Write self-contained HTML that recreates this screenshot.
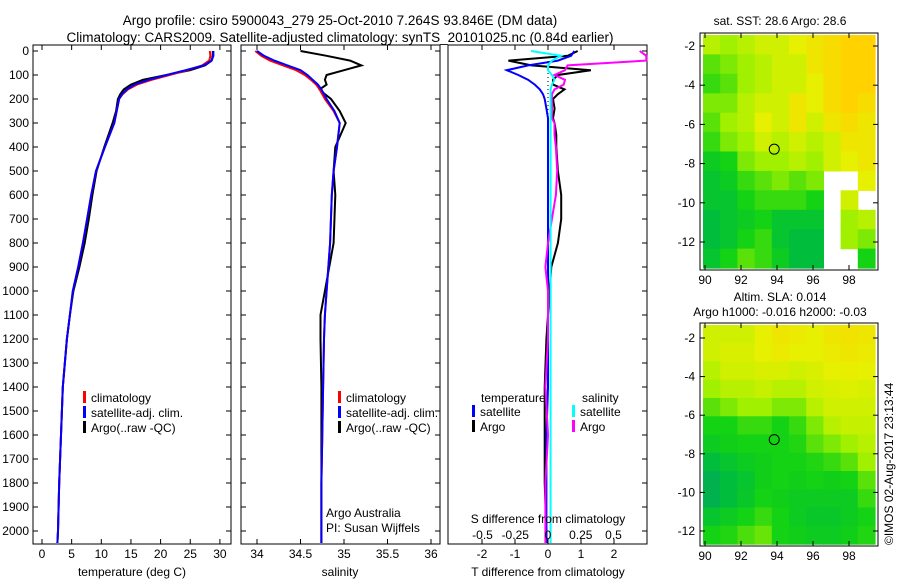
<!DOCTYPE html>
<html><head><meta charset="utf-8"><style>
body{margin:0;background:#fff;width:900px;height:580px;overflow:hidden}
svg{font-family:"Liberation Sans",sans-serif;font-size:12px}
</style></head><body>
<svg id="s" width="900" height="580">
<text x="340" y="25" text-anchor="middle" font-size="13.5">Argo profile: csiro 5900043_279 25-Oct-2010 7.264S 93.846E (DM data)</text>
<text x="340" y="42" text-anchor="middle" font-size="13.5">Climatology: CARS2009. Satellite-adjusted climatology: synTS_20101025.nc (0.84d earlier)</text>
<text x="780" y="25" text-anchor="middle">sat. SST: 28.6 Argo: 28.6</text>
<text x="780" y="301" text-anchor="middle">Altim. SLA: 0.014</text>
<text x="780" y="316" text-anchor="middle">Argo h1000: -0.016 h2000: -0.03</text>
<text transform="translate(893,545) rotate(-90)">©IMOS 02-Aug-2017 23:13:44</text>
</svg>
<script>
// ---- data ----
const depthT=[0,20,40,60,80,100,120,140,160,180,200,250,300,400,500,600,700,800,900,1000,1100,1200,1400,1600,1800,2000,2050];
const tempClim=[28.3,28.4,28.2,27.0,24.5,21.5,18.5,16.0,14.5,13.6,13.0,12.6,12.2,10.6,9.1,8.3,7.6,6.9,6.1,5.2,4.7,4.2,3.5,3.2,2.9,2.7,2.6];
const tempSat=[28.9,28.9,28.6,27.3,24.2,21.0,18.0,15.6,14.3,13.5,13.0,12.6,12.2,10.6,9.1,8.3,7.6,6.9,6.1,5.2,4.7,4.2,3.5,3.2,2.9,2.7,2.6];
const tempArgo=[28.8,28.8,28.6,27.5,25.0,21.0,17.0,15.0,13.8,13.2,12.8,12.5,11.9,10.5,9.2,8.5,7.9,7.2,6.3,5.3,4.7,4.2,3.5,3.2,2.9,2.7,2.6];
const depthS=[0,20,40,60,80,100,120,140,160,180,200,250,300,400,500,600,800,1000,1100,1200,1400,1600,1800,2000,2050];
const salClim=[33.98,34.05,34.15,34.3,34.45,34.55,34.62,34.68,34.72,34.75,34.78,34.88,34.95,34.92,34.88,34.86,34.84,34.8,34.78,34.77,34.76,34.75,34.74,34.74,34.74];
const salSat=[34.0,34.08,34.2,34.35,34.5,34.58,34.64,34.7,34.74,34.77,34.8,34.89,34.95,34.92,34.88,34.86,34.84,34.8,34.78,34.77,34.76,34.75,34.74,34.74,34.74];
const salArgo=[34.5,34.8,35.07,35.2,35.0,34.8,34.78,34.8,34.72,34.78,34.85,34.95,35.02,34.9,34.88,34.9,34.88,34.78,34.73,34.73,34.74,34.74,34.74,34.74,34.74];
const depthD=[0,20,40,60,80,100,120,140,160,180,200,240,280,300,350,400,500,600,700,800,900,1000,1200,1400,1600,1800,2000,2050];
const dTsat=[0.8,0.7,0.3,-0.6,-1.25,-0.9,-0.6,-0.4,-0.25,-0.15,-0.1,-0.05,0,0,0,0,0,0,0,0,0,0,0,0,-0.05,-0.05,-0.05,-0.05];
const dTargo=[0.9,0.6,-1.2,-0.5,1.3,0.3,0.15,0.15,0.5,0.3,0.15,0.2,0.15,0.2,0.25,0.25,0.3,0.4,0.4,0.3,0.1,0.05,-0.05,-0.1,-0.1,-0.1,-0.05,-0.05];
const dSsat=[-0.13,0.1,0.03,0.0,0.0,0.03,0.05,0.03,0.02,0.02,0.02,0.02,0.02,0.02,0.02,0.02,0.02,0.02,0.02,0.02,0.02,0.02,0.02,0.02,0.02,0.02,0.02,0.02];
const dSargo=[0.7,0.75,0.75,0.15,0.13,0.05,0.13,0.12,0.05,0.03,0.03,0.03,0.03,0.05,0.05,0.06,0.07,0.06,0.03,0.0,-0.02,0.0,0.0,-0.02,0.0,-0.02,-0.02,-0.02];
const depthTicks=[0,100,200,300,400,500,600,700,800,900,1000,1100,1200,1300,1400,1500,1600,1700,1800,1900,2000];
const tempTicks=[0,5,10,15,20,25,30];
const salTicks=[34,34.5,35,35.5,36];
const tdTicks=[-2,-1,0,1,2];
const sdTicks=[-0.5,-0.25,0,0.25,0.5];
const sstGrid=[
[.55,.5,.55,.6,.6,.65,.7,.75,.8,.8],[.4,.45,.5,.55,.6,.6,.7,.75,.8,.8],[.35,.4,.5,.55,.6,.6,.65,.75,.8,.8],
[.45,.45,.55,.6,.6,.7,.65,.75,.8,.75],[.4,.5,.55,.65,.6,.7,.6,.7,.75,.7],[.35,.45,.5,.6,.55,.6,.55,.6,.7,.7],
[.25,.3,.45,.5,.5,.55,.5,.6,.65,.7],[.2,.25,.35,.4,.45,.4,.45,null,null,.65],[.2,.2,.3,.35,.35,.35,.3,null,.6,null],
[.15,.2,.25,.3,.2,.2,.2,null,.5,.55],[.15,.2,.3,.35,.2,.15,.15,null,.5,.45],[.2,.3,.4,.35,.25,.15,.15,null,null,.3]];
const slaGrid=[
[.6,.6,.6,.65,.7,.68,.65,.7,.72,.7],[.6,.62,.62,.65,.68,.65,.65,.68,.7,.68],[.55,.6,.6,.62,.62,.6,.62,.65,.66,.65],
[.5,.55,.55,.58,.55,.55,.6,.62,.63,.62],[.4,.45,.5,.5,.45,.45,.55,.6,.6,.6],[.3,.3,.35,.35,.3,.35,.45,.55,.58,.58],
[.25,.28,.3,.3,.3,.32,.4,.45,.5,.55],[.15,.2,.25,.28,.3,.3,.32,.35,.4,.5],[.1,.15,.2,.28,.3,.28,.3,.28,.3,.4],
[.1,.15,.22,.3,.28,.25,.25,.25,.25,.35],[.2,.25,.3,.35,.3,.25,.22,.22,.25,.3],[.3,.32,.38,.42,.3,.28,.25,.25,.28,.32]];
const lonTicks=[90,92,94,96,98];
const latTicks=[-2,-4,-6,-8,-10,-12];
const argoPos=[93.846,-7.264];

const S=document.getElementById('s'),NS='http://www.w3.org/2000/svg';
function mk(t,a,p){const e=document.createElementNS(NS,t);for(const k in a)e.setAttribute(k,a[k]);(p||S).appendChild(e);return e;}
function txt(x,y,s,anc,nm){const e=mk('text',{x:x,y:y,'text-anchor':anc||'middle'});e.textContent=s;

return e;}
const Y0=51,YK=0.24; const dy=d=>Y0+d*YK;
function panel(x0,x1,nm){const r=mk('rect',{x:x0,y:45,width:x1-x0,height:499,fill:'none',stroke:'#000'});

}
function line(xs,ds,fx,col,nm,w){let p='';xs.forEach((v,i)=>{p+=(i?'L':'M')+fx(v).toFixed(1)+','+dy(ds[i]).toFixed(1);});
const e=mk('path',{d:p,fill:'none',stroke:col,'stroke-width':w||2});

}
function xticks(vals,fx,ylab,labs,nm,top){vals.forEach((v,i)=>{const x=fx(v);mk('line',{x1:x,x2:x,y1:544,y2:539,stroke:'#000'});if(top)mk('line',{x1:x,x2:x,y1:45,y2:50,stroke:'#000'});txt(x,ylab,labs?labs[i]:String(v),'middle',nm);});}
function legend(x,y,items,nm){items.forEach((it,i)=>{const l=mk('rect',{x:x,y:y+i*15-11,width:3,height:12,fill:it[0]});


txt(x+8,y+i*15,it[1],'start',nm+'-label');});}
// panel 1
const fT=v=>42+v*5.93;
panel(33,231,'temperature-panel');
depthTicks.forEach(d=>{const y=dy(d);mk('line',{x1:33,x2:38,y1:y,y2:y,stroke:'#000'});mk('line',{x1:231,x2:226,y1:y,y2:y,stroke:'#000'});txt(29,y+4,String(d),'end','depth-tick-label');});
xticks(tempTicks,fT,558,null,'temperature-tick-label',true);
txt(132,576,'temperature (deg C)','middle','temperature-axis-title');
line(tempArgo,depthT,fT,'#000','temp-argo-line');
line(tempClim,depthT,fT,'#f00','temp-clim-line');
line(tempSat,depthT,fT,'#00f','temp-sat-line');
legend(83,402,[['#f00','climatology'],['#00f','satellite-adj. clim.'],['#000','Argo(..raw -QC)']],'temp-legend');
// panel 2
const fS=v=>257+(v-34)*87;
panel(241,440,'salinity-panel');
depthTicks.forEach(d=>{const y=dy(d);mk('line',{x1:241,x2:246,y1:y,y2:y,stroke:'#000'});mk('line',{x1:440,x2:435,y1:y,y2:y,stroke:'#000'});});
xticks(salTicks,fS,558,['34','34.5','35','35.5','36'],'salinity-tick-label',true);
txt(340,576,'salinity','middle','salinity-axis-title');
line(salArgo,depthS,fS,'#000','sal-argo-line');
line(salClim,depthS,fS,'#f00','sal-clim-line');
line(salSat,depthS,fS,'#00f','sal-sat-line');
legend(338,402,[['#f00','climatology'],['#00f','satellite-adj. clim.'],['#000','Argo(..raw -QC)']],'sal-legend');
txt(326,517,'Argo Australia','start','argo-australia-label');
txt(326,532,'PI: Susan Wijffels','start','pi-label');
// panel 3
const fD=v=>548+v*33, fSD=v=>548+v*131;
panel(448,647,'difference-panel');
depthTicks.forEach(d=>{const y=dy(d);mk('line',{x1:647,x2:642,y1:y,y2:y,stroke:'#000'});});
tdTicks.forEach(v=>mk('line',{x1:fD(v),x2:fD(v),y1:45,y2:50,stroke:'#000'}));
mk('line',{x1:548,x2:548,y1:45,y2:330,stroke:'#000','stroke-dasharray':'1,3'});
xticks(tdTicks,fD,558,null,'tdiff-tick-label',false);
txt(548,576,'T difference from climatology','middle','tdiff-axis-title');
line(dTargo,depthD,fD,'#000','tdiff-argo-line');
line(dTsat,depthD,fD,'#00f','tdiff-sat-line');
line(dSargo,depthD,fSD,'#f0f','sdiff-argo-line');
line(dSsat,depthD,fSD,'#0ff','sdiff-sat-line');
txt(548,523,'S difference from climatology','middle','sdiff-axis-title');
sdTicks.forEach((v,i)=>txt(fSD(v),539,['-0.5','-0.25','0','0.25','0.5'][i],'middle','sdiff-tick-label'));
txt(481,402,'temperature','start','tdiff-legend-title');
txt(582,402,'salinity','start','sdiff-legend-title');
legend(472,416,[['#00f','satellite'],['#000','Argo']],'tdiff-legend');
legend(572,416,[['#0ff','satellite'],['#f0f','Argo']],'sdiff-legend');
// maps
function cmap(v){const st=[[0,[0,150,110]],[.15,[0,190,60]],[.3,[20,210,20]],[.5,[160,240,0]],[.65,[230,240,0]],[.8,[255,210,0]],[1,[255,150,0]]];
for(let i=1;i<st.length;i++)if(v<=st[i][0]){const a=st[i-1],b=st[i],t=(v-a[0])/(b[0]-a[0]);return 'rgb('+a[1].map((c,j)=>Math.round(c+(b[1][j]-c)*t)).join(',')+')';}return 'rgb(255,150,0)';}
function map(grid,top,bot,latTop,latStep,nm){
 const x0=703,x1=875,lx=l=>705+(l-90)*18,ly=l=>latTop+(-2-l)*latStep;
 const g=mk('g',{});
 const R=grid.length,C=grid[0].length,cw=(x1-x0)/C,ch=(bot-top)/R;
 grid.forEach((row,r)=>row.forEach((v,c)=>{if(v===null)return;const e=mk('rect',{x:(x0+c*cw).toFixed(1),y:(top+r*ch).toFixed(1),width:(cw+0.6).toFixed(1),height:(ch+0.6).toFixed(1),fill:cmap(v)},g);
 
 }));
 const f=mk('rect',{x:700,y:top-2,width:178,height:bot-top+4,fill:'none',stroke:'#000'});
 
 
 latTicks.forEach(l=>{const y=ly(l);mk('line',{x1:700,x2:705,y1:y,y2:y,stroke:'#000'});mk('line',{x1:878,x2:873,y1:y,y2:y,stroke:'#000'});txt(695,y+4,String(l),'end','lat-tick-label');});
 lonTicks.forEach(l=>{const x=lx(l);mk('line',{x1:x,x2:x,y1:bot+2,y2:bot-3,stroke:'#000'});mk('line',{x1:x,x2:x,y1:top-2,y2:top+3,stroke:'#000'});txt(x,bot+16,String(l),'middle','lon-tick-label');});
 const c=mk('circle',{cx:lx(argoPos[0]),cy:ly(argoPos[1]),r:5,fill:'none',stroke:'#000'});
 
 
}
map(sstGrid,35,268,46,19.6,'sst-map');
map(slaGrid,325,544,338,19.3,'sla-map');
</script>
</body></html>
